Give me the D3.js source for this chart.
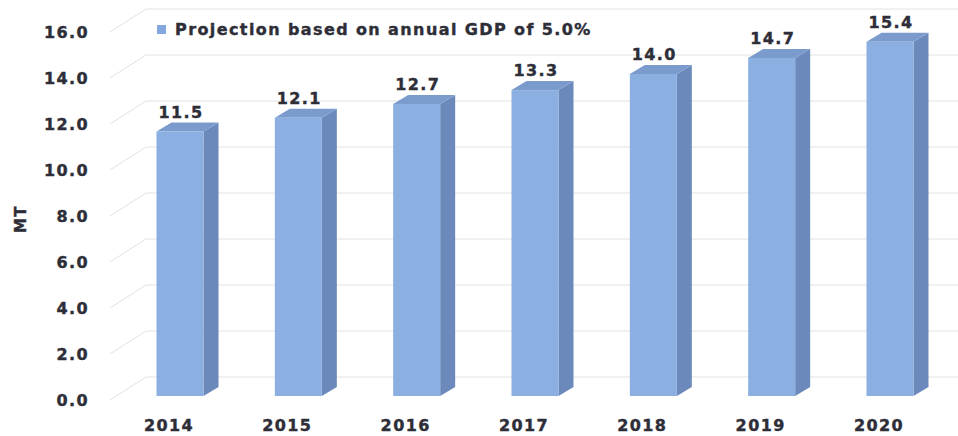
<!DOCTYPE html>
<html>
  <head>
    <meta http-equiv="Content-Type" content="text/html; charset=UTF-8">
    <script type="text/javascript" src="https://cdn.jsdelivr.net/npm/d3@7"></script>
    <style>
      body { margin: 0; background: #fff; }
      #chart { width: 958px; height: 436px; }
      text {
        font-family: "DejaVu Sans", sans-serif;
        font-weight: bold;
        fill: #2e2e38;
        stroke: #2e2e38;
        stroke-width: 0.4px;
        letter-spacing: 1.4px;
      }
    </style>
  </head>
  <body>
    <div id="chart"></div>
    <script>
// data
var years = ["2014", "2015", "2016", "2017", "2018", "2019", "2020"];
var values = [11.5, 12.1, 12.7, 13.3, 14.0, 14.7, 15.4];
var yTicks = [0, 2, 4, 6, 8, 10, 12, 14, 16];
var seriesName = "Projection based on annual GDP of 5.0%";
var axisTitle = "MT";

var width = 958, height = 436;
var color = {front: "#8cafe2", side: "#6b89bb", top: "#7c9bcd", legend: "#84a8de"};

// front plane scale (tick labels sit on it)
var y = d3.scaleLinear().domain([0, 16]).range([400, 32]);
var x = d3.scalePoint().domain(years).range([180, 890]);

var barW = 47;
var depth = {dx: 15, dy: -9};     // bar depth
var wall = {dx: 36, dy: -23};     // back wall offset
var barShift = -4;                // bars sit a little behind the front plane

var svg = d3.select("#chart").append("svg")
    .attr("width", width)
    .attr("height", height);

// grid: diagonal on the side + horizontal on the back wall
var grid = svg.append("g").attr("class", "grid");
var gridX0 = 110;
grid.selectAll(".diag")
    .data(yTicks)
  .enter().append("line")
    .attr("stroke", "#e2e2e2")
    .attr("x1", gridX0)
    .attr("y1", function (d) { return y(d); })
    .attr("x2", gridX0 + wall.dx)
    .attr("y2", function (d) { return y(d) + wall.dy; });
grid.selectAll(".hline")
    .data(yTicks)
  .enter().append("line")
    .attr("stroke", "#e2e2e2")
    .attr("x1", gridX0 + wall.dx)
    .attr("y1", function (d) { return y(d) + wall.dy; })
    .attr("x2", width)
    .attr("y2", function (d) { return y(d) + wall.dy; });

// y tick labels
svg.append("g").selectAll("text")
    .data(yTicks)
  .enter().append("text")
    .attr("x", 89)
    .attr("y", function (d) { return y(d); })
    .attr("dy", "0.36em")
    .attr("text-anchor", "end")
    .attr("font-size", "16px")
    .text(function (d) { return d.toFixed(1); });

// axis title
svg.append("text")
    .attr("transform", "translate(26,219) rotate(-90)")
    .attr("text-anchor", "middle")
    .attr("font-size", "15px")
    .text(axisTitle);

// 3d bars
var bars = svg.append("g").selectAll(".bar")
    .data(values)
  .enter().append("g")
    .attr("class", "bar");

function x0(i) { return x(years[i]) - barW / 2; }
function yb() { return y(0) + barShift; }
function yt(d) { return y(d) + barShift; }

bars.append("path")   // side
    .attr("fill", color.side)
    .attr("d", function (d, i) {
      var a = x0(i) + barW;
      return "M" + a + "," + yt(d) + "L" + (a + depth.dx) + "," + (yt(d) + depth.dy) +
        "L" + (a + depth.dx) + "," + (yb() + depth.dy) + "L" + a + "," + yb() + "Z";
    });
bars.append("path")   // top
    .attr("fill", color.top)
    .attr("d", function (d, i) {
      var a = x0(i);
      return "M" + a + "," + yt(d) + "L" + (a + depth.dx) + "," + (yt(d) + depth.dy) +
        "L" + (a + barW + depth.dx) + "," + (yt(d) + depth.dy) + "L" + (a + barW) + "," + yt(d) + "Z";
    });
bars.append("rect")   // front
    .attr("fill", color.front)
    .attr("x", function (d, i) { return x0(i); })
    .attr("y", function (d) { return yt(d); })
    .attr("width", barW)
    .attr("height", function (d) { return yb() - yt(d); });

// value labels
bars.append("text")
    .attr("x", function (d, i) { return x(years[i]) + 1; })
    .attr("y", function (d) { return yt(d) + depth.dy - 5; })
    .attr("text-anchor", "middle")
    .attr("font-size", "16px")
    .text(function (d) { return d.toFixed(1); });

// year labels
svg.append("g").selectAll("text")
    .data(years)
  .enter().append("text")
    .attr("x", function (d) { return x(d) - 11; })
    .attr("y", 431)
    .attr("text-anchor", "middle")
    .attr("font-size", "16px")
    .text(function (d) { return d; });

// legend
var legend = svg.append("g").attr("transform", "translate(157,25)");
legend.append("rect")
    .attr("width", 9)
    .attr("height", 9)
    .attr("fill", color.legend);
legend.append("text")
    .attr("x", 18)
    .attr("y", 9.5)
    .attr("font-size", "16px")
    .text(seriesName);
    </script>
</body></html>
